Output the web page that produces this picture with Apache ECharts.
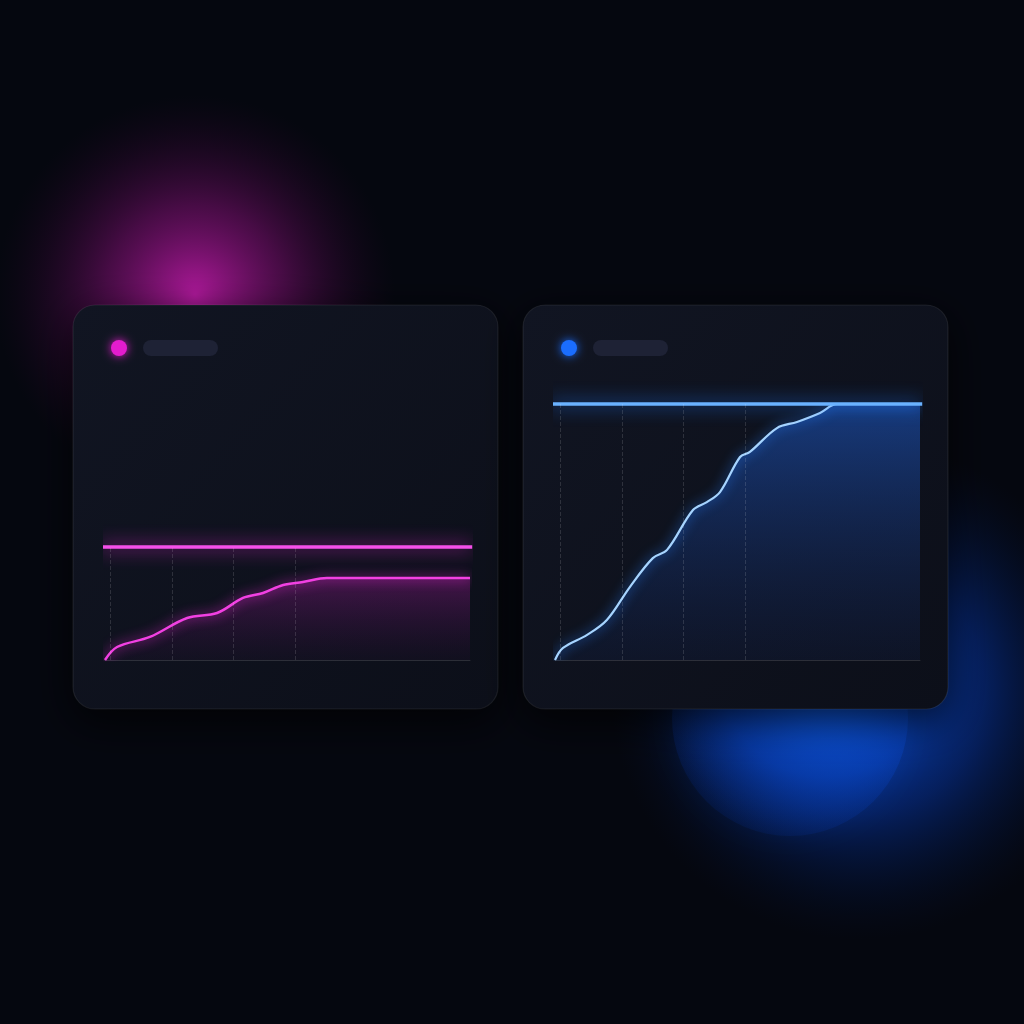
<!DOCTYPE html>
<html lang="en">
<head>
    <meta charset="utf-8">
    <title>Progress vs target</title>
    <script src="https://cdn.jsdelivr.net/npm/echarts@6/dist/echarts.min.js"></script>
    <style>
        html, body { margin: 0; padding: 0; background: #05070f; }
        #main { width: 1024px; height: 1024px; }
    </style>
</head>
<body>
<div id="main"></div>
<script type="text/javascript">
    // left card: progress curve that levels off below its target
    var leftX = [0, 3.3, 12.3, 22.5, 30.7, 37.8, 43.3, 48.8, 54.2, 60.8, 100];
    var leftY = [0, 11.5, 20.4, 37.2, 41.6, 54.9, 59.3, 66.4, 69.0, 72.6, 72.6];
    var leftTarget = 100;

    // right card: progress curve that climbs all the way to its target
    var rightX = [0, 2.2, 8.8, 14.2, 20.5, 26.8, 30.7, 37.8, 41.6, 45.2, 50.7, 53.4, 60.8, 66.3, 72.6, 77.3, 100];
    var rightY = [0, 4.7, 9.8, 15.6, 28.5, 39.8, 43.0, 58.6, 61.7, 65.6, 79.3, 81.3, 90.6, 93.0, 96.5, 100, 100];
    var rightTarget = 100;

    // dashed guide positions along x
    var guideX = [1.5, 18.5, 35, 52];

    function pairs(xs, ys) {
        var out = [];
        for (let i = 0; i < xs.length; i++) {
            out.push([xs[i], ys[i]]);
        }
        return out;
    }

    function guides() {
        return guideX.map(function (v) { return {xAxis: v}; });
    }

    var myChart = echarts.init(document.getElementById('main'));

    function card(x, dotColor) {
        return [
            {
                type: 'rect', z: -5,
                shape: {x: x, y: 305, width: 425, height: 404, r: 22},
                style: {
                    fill: new echarts.graphic.LinearGradient(0, 0, 1, 1, [
                        {offset: 0, color: '#111522'},
                        {offset: 1, color: '#0c0f19'}
                    ]),
                    stroke: 'rgba(255,255,255,0.08)', lineWidth: 1.2,
                    shadowBlur: 40, shadowColor: 'rgba(0,0,0,0.75)', shadowOffsetY: 12
                }
            },
            {
                type: 'circle', z: -4,
                shape: {cx: x + 46, cy: 348, r: 8},
                style: {fill: dotColor, shadowBlur: 10, shadowColor: dotColor}
            },
            {
                type: 'rect', z: -4,
                shape: {x: x + 70, y: 340, width: 75, height: 16, r: 8},
                style: {fill: '#1e2235'}
            }
        ];
    }

    var graphics = [
        {
            type: 'rect', z: -20,
            shape: {x: 0, y: 0, width: 1024, height: 1024},
            style: {fill: '#05070f'}
        },
        {
            // magenta glow
            type: 'circle', z: -15,
            shape: {cx: 195, cy: 295, r: 200},
            style: {
                fill: new echarts.graphic.RadialGradient(0.5, 0.5, 0.5, [
                    {offset: 0, color: 'rgba(175,25,155,1)'},
                    {offset: 0.45, color: 'rgba(115,15,105,0.6)'},
                    {offset: 1, color: 'rgba(40,5,40,0)'}
                ])
            }
        },
        {
            // broad blue glow
            type: 'circle', z: -15,
            shape: {cx: 860, cy: 690, r: 250},
            style: {
                fill: new echarts.graphic.RadialGradient(0.5, 0.5, 0.5, [
                    {offset: 0, color: 'rgba(10,85,230,0.95)'},
                    {offset: 0.5, color: 'rgba(6,55,170,0.5)'},
                    {offset: 1, color: 'rgba(0,20,60,0)'}
                ])
            }
        },
        {
            // blue disc under the right card
            type: 'circle', z: -14,
            shape: {cx: 790, cy: 718, r: 118},
            style: {
                fill: new echarts.graphic.RadialGradient(0.65, 0.3, 0.75, [
                    {offset: 0, color: 'rgba(15,100,245,0.95)'},
                    {offset: 0.6, color: 'rgba(8,65,185,0.65)'},
                    {offset: 1, color: 'rgba(5,35,110,0.25)'}
                ]),
                shadowBlur: 30, shadowColor: 'rgba(10,70,200,0.4)'
            }
        }
    ].concat(card(73, '#e41ccd')).concat(card(523, '#1a6dff'));

    var axisStyle = {
        x: {
            type: 'value', min: 0, max: 100,
            axisLine: {show: true, lineStyle: {color: 'rgba(255,255,255,0.13)', width: 1}},
            axisTick: {show: false}, axisLabel: {show: false}, splitLine: {show: false}
        },
        y: {
            type: 'value', min: 0, max: 100,
            axisLine: {show: false}, axisTick: {show: false},
            axisLabel: {show: false}, splitLine: {show: false}
        }
    };

    var option = {
        backgroundColor: '#05070f',
        animation: false,
        graphic: graphics,
        grid: [
            {left: 105, top: 547, width: 365, height: 113},
            {left: 555, top: 404, width: 365, height: 256}
        ],
        xAxis: [
            Object.assign({gridIndex: 0}, axisStyle.x),
            Object.assign({gridIndex: 1}, axisStyle.x)
        ],
        yAxis: [
            Object.assign({gridIndex: 0}, axisStyle.y),
            Object.assign({gridIndex: 1}, axisStyle.y)
        ],
        series: [
            {
                name: '进度A',
                type: 'line', xAxisIndex: 0, yAxisIndex: 0,
                data: pairs(leftX, leftY),
                smooth: 0.35, showSymbol: false,
                lineStyle: {color: '#f240e2', width: 2.5, shadowBlur: 12, shadowColor: 'rgba(230,40,210,1)'},
                areaStyle: {
                    color: new echarts.graphic.LinearGradient(0, 0, 0, 1, [
                        {offset: 0, color: 'rgba(170,30,160,0.5)'},
                        {offset: 1, color: 'rgba(80,15,90,0.10)'}
                    ])
                },
                markLine: {
                    silent: true, symbol: 'none', label: {show: false},
                    lineStyle: {color: 'rgba(255,255,255,0.13)', type: 'dashed', width: 1},
                    data: guides()
                }
            },
            {
                name: '目标A',
                type: 'line', xAxisIndex: 0, yAxisIndex: 0, z: 3,
                data: [[-1.4, leftTarget], [100.6, leftTarget]],
                showSymbol: false, clip: false,
                lineStyle: {color: '#f550ea', width: 3.5, shadowBlur: 18, shadowColor: 'rgba(235,40,215,1)'}
            },
            {
                name: '进度B',
                type: 'line', xAxisIndex: 1, yAxisIndex: 1,
                data: pairs(rightX, rightY),
                smooth: 0.35, showSymbol: false,
                lineStyle: {color: '#a6d4ff', width: 2.2, shadowBlur: 12, shadowColor: 'rgba(40,130,255,1)'},
                areaStyle: {
                    color: new echarts.graphic.LinearGradient(0, 0, 0, 1, [
                        {offset: 0, color: 'rgba(30,90,200,0.8)'},
                        {offset: 1, color: 'rgba(20,40,95,0.25)'}
                    ])
                },
                markLine: {
                    silent: true, symbol: 'none', label: {show: false},
                    lineStyle: {color: 'rgba(255,255,255,0.13)', type: 'dashed', width: 1},
                    data: guides()
                }
            },
            {
                name: '目标B',
                type: 'line', xAxisIndex: 1, yAxisIndex: 1, z: 3,
                data: [[-1.4, rightTarget], [100.6, rightTarget]],
                showSymbol: false, clip: false,
                lineStyle: {color: '#6ab2ff', width: 3.5, shadowBlur: 18, shadowColor: 'rgba(30,120,255,1)'}
            }
        ]
    };

    myChart.setOption(option);
</script>
</body>
</html>
